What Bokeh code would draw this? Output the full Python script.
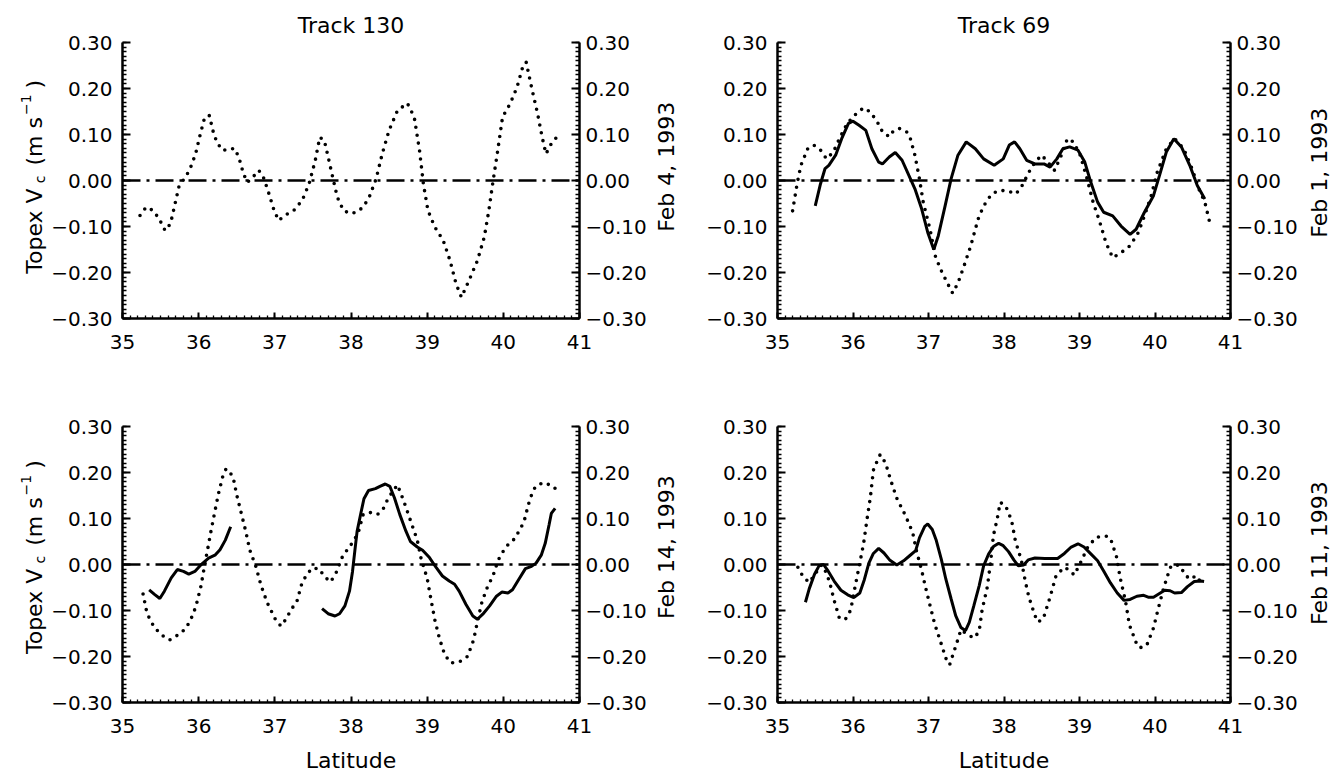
import math
from bokeh.plotting import figure
from bokeh.models import Range1d, LinearAxis, FixedTicker, CustomJSTickFormatter, Span
from bokeh.core.properties import value
from bokeh.layouts import column, row
from bokeh.embed import file_html
from bokeh.resources import INLINE

FONT = "DejaVu Sans"
TICK_SIZE = "20px"
LABEL_SIZE = "22px"

# ---------------- data ----------------
lat_ticks = [35, 36, 37, 38, 39, 40, 41]
v_ticks = [-0.30, -0.20, -0.10, 0.00, 0.10, 0.20, 0.30]

titles = ["Track 130", "Track 69", "", ""]
right_labels = ["Feb 4, 1993", "Feb 1, 1993", "Feb 14, 1993", "Feb 11, 1993"]
left_label_main = "Topex V"
left_label_sub = "c"
left_label_unit = "(m s"
left_label_sup = "\u22121"
left_label_close = ")"
x_label = "Latitude"

# Track 130, Feb 4 1993 (top left): dotted only
tl_dot_lat = [35.23, 35.31, 35.40, 35.48, 35.56, 35.63, 35.68, 35.74, 35.81, 35.88,
              35.96, 36.02, 36.08, 36.14, 36.20, 36.25, 36.32, 36.39, 36.48, 36.54,
              36.59, 36.64, 36.71, 36.79, 36.85, 36.91, 36.99, 37.05, 37.13, 37.25,
              37.36, 37.45, 37.53, 37.59, 37.65, 37.70, 37.76, 37.82, 37.90, 37.99,
              38.07, 38.16, 38.24, 38.33, 38.41, 38.50, 38.61, 38.74, 38.83, 38.90,
              38.95, 39.01, 39.10, 39.21, 39.30, 39.38, 39.45, 39.55, 39.66, 39.75,
              39.81, 39.86, 39.92, 39.99, 40.09, 40.18, 40.26, 40.30, 40.37, 40.45,
              40.51, 40.56, 40.63, 40.70]
tl_dot_v = [-0.076, -0.058, -0.065, -0.083, -0.109, -0.094, -0.058, -0.014, 0.004, 0.022,
            0.058, 0.100, 0.138, 0.141, 0.100, 0.080, 0.065, 0.069, 0.069, 0.043,
            0.014, -0.004, 0.007, 0.022, 0.007, -0.022, -0.065, -0.087, -0.076, -0.065,
            -0.043, -0.007, 0.043, 0.094, 0.087, 0.051, 0.007, -0.036, -0.065, -0.072,
            -0.069, -0.058, -0.036, 0.004, 0.058, 0.109, 0.152, 0.168, 0.138, 0.065,
            -0.007, -0.065, -0.101, -0.130, -0.174, -0.225, -0.254, -0.217, -0.174, -0.123,
            -0.065, -0.007, 0.058, 0.138, 0.167, 0.203, 0.250, 0.257, 0.203, 0.145,
            0.094, 0.058, 0.080, 0.094]

# Track 69, Feb 1 1993 (top right)
tr_sol_lat = [35.50, 35.57, 35.63, 35.68, 35.77, 35.85, 35.94, 36.00, 36.08, 36.17,
              36.25, 36.34, 36.39, 36.48, 36.56, 36.65, 36.74, 36.82, 36.91, 36.99,
              37.07, 37.13, 37.22, 37.30, 37.39, 37.50, 37.62, 37.73, 37.87, 37.99,
              38.07, 38.14, 38.21, 38.30, 38.41, 38.53, 38.61, 38.70, 38.78, 38.87,
              38.98, 39.07, 39.15, 39.24, 39.32, 39.44, 39.55, 39.67, 39.75, 39.86,
              39.98, 40.06, 40.15, 40.25, 40.35, 40.46, 40.56, 40.66]
tr_sol_v = [-0.055, -0.007, 0.026, 0.033, 0.055, 0.091, 0.124, 0.129, 0.120, 0.109,
            0.069, 0.040, 0.036, 0.051, 0.061, 0.044, 0.011, -0.018, -0.062, -0.113,
            -0.150, -0.120, -0.055, 0.004, 0.055, 0.084, 0.069, 0.047, 0.033, 0.047,
            0.077, 0.084, 0.069, 0.044, 0.036, 0.036, 0.029, 0.047, 0.069, 0.073,
            0.066, 0.040, -0.004, -0.047, -0.069, -0.077, -0.099, -0.117, -0.106, -0.069,
            -0.033, 0.011, 0.062, 0.091, 0.073, 0.033, -0.011, -0.040]
tr_dot_lat = [35.20, 35.26, 35.31, 35.40, 35.48, 35.57, 35.65, 35.74, 35.82, 35.91,
              36.00, 36.08, 36.14, 36.22, 36.31, 36.39, 36.48, 36.54, 36.62, 36.71,
              36.76, 36.82, 36.88, 36.93, 37.02, 37.09, 37.16, 37.25, 37.32, 37.39,
              37.47, 37.56, 37.62, 37.67, 37.76, 37.84, 37.93, 38.04, 38.16, 38.24,
              38.33, 38.41, 38.50, 38.58, 38.67, 38.76, 38.84, 38.92, 39.01, 39.10,
              39.18, 39.27, 39.35, 39.44, 39.55, 39.67, 39.78, 39.86, 39.95, 40.03,
              40.15, 40.26, 40.38, 40.49, 40.58, 40.66, 40.72]
tr_dot_v = [-0.066, -0.007, 0.033, 0.069, 0.077, 0.066, 0.047, 0.062, 0.091, 0.120,
            0.139, 0.150, 0.158, 0.150, 0.131, 0.106, 0.095, 0.109, 0.113, 0.106,
            0.091, 0.055, 0.004, -0.047, -0.106, -0.164, -0.193, -0.223, -0.245, -0.223,
            -0.186, -0.142, -0.106, -0.077, -0.047, -0.029, -0.022, -0.022, -0.029, -0.011,
            0.018, 0.040, 0.055, 0.040, 0.022, 0.055, 0.091, 0.084, 0.055, 0.004,
            -0.047, -0.091, -0.135, -0.168, -0.157, -0.142, -0.113, -0.077, -0.033, 0.018,
            0.069, 0.091, 0.069, 0.026, -0.018, -0.047, -0.088]

# Track 130, Feb 14 1993 (bottom left): two solid segments
bl_sol1_lat = [35.35, 35.42, 35.49, 35.55, 35.64, 35.72, 35.80, 35.87, 35.95, 36.04,
               36.13, 36.22, 36.28, 36.35, 36.42]
bl_sol1_v = [-0.055, -0.065, -0.074, -0.058, -0.029, -0.011, -0.015, -0.021, -0.015, 0.001,
             0.014, 0.021, 0.032, 0.053, 0.082]
bl_sol2_lat = [37.62, 37.70, 37.79, 37.85, 37.92, 37.98, 38.02, 38.05, 38.08, 38.13,
               38.17, 38.23, 38.32, 38.38, 38.45, 38.51, 38.57, 38.64, 38.72, 38.78,
               38.87, 38.94, 39.03, 39.12, 39.20, 39.29, 39.36, 39.42, 39.51, 39.60,
               39.66, 39.73, 39.82, 39.91, 39.98, 40.06, 40.12, 40.20, 40.29, 40.37,
               40.43, 40.50, 40.55, 40.60, 40.63, 40.68]
bl_sol2_v = [-0.096, -0.107, -0.112, -0.107, -0.090, -0.058, -0.015, 0.029, 0.072, 0.112,
             0.143, 0.161, 0.165, 0.170, 0.175, 0.170, 0.145, 0.109, 0.073, 0.050,
             0.038, 0.031, 0.015, -0.007, -0.025, -0.036, -0.043, -0.058, -0.087, -0.112,
             -0.119, -0.108, -0.090, -0.069, -0.060, -0.062, -0.055, -0.033, -0.009, -0.004,
             0.003, 0.021, 0.046, 0.086, 0.111, 0.122]
bl_dot_lat = [35.27, 35.32, 35.37, 35.43, 35.52, 35.62, 35.72, 35.82, 35.88, 35.93,
              35.97, 36.03, 36.08, 36.12, 36.16, 36.21, 36.26, 36.32, 36.36, 36.45,
              36.50, 36.56, 36.62, 36.67, 36.75, 36.82, 36.90, 37.01, 37.08, 37.15,
              37.21, 37.29, 37.35, 37.41, 37.49, 37.58, 37.65, 37.73, 37.80, 37.89,
              37.96, 38.04, 38.10, 38.16, 38.26, 38.35, 38.43, 38.49, 38.61, 38.69,
              38.78, 38.87, 38.92, 39.00, 39.05, 39.10, 39.16, 39.23, 39.31, 39.42,
              39.53, 39.61, 39.66, 39.72, 39.80, 39.86, 39.93, 40.00, 40.07, 40.15,
              40.21, 40.27, 40.33, 40.37, 40.42, 40.52, 40.65, 40.72]
bl_dot_v = [-0.064, -0.105, -0.123, -0.139, -0.154, -0.164, -0.154, -0.141, -0.125, -0.107,
            -0.087, -0.047, 0.000, 0.035, 0.071, 0.113, 0.154, 0.194, 0.208, 0.192,
            0.151, 0.111, 0.071, 0.032, -0.004, -0.046, -0.083, -0.120, -0.134, -0.118,
            -0.099, -0.080, -0.044, -0.024, -0.008, -0.009, -0.026, -0.038, -0.020, 0.018,
            0.034, 0.052, 0.072, 0.109, 0.113, 0.109, 0.123, 0.145, 0.173, 0.139,
            0.096, 0.053, 0.013, -0.030, -0.076, -0.120, -0.160, -0.196, -0.214, -0.212,
            -0.200, -0.164, -0.124, -0.081, -0.045, -0.027, 0.009, 0.029, 0.045, 0.056,
            0.074, 0.092, 0.131, 0.151, 0.169, 0.178, 0.171, 0.158]

# Track 69, Feb 11 1993 (bottom right)
br_sol_lat = [35.37, 35.42, 35.49, 35.55, 35.61, 35.67, 35.75, 35.84, 35.93, 36.01,
              36.09, 36.15, 36.21, 36.27, 36.34, 36.41, 36.49, 36.58, 36.67, 36.75,
              36.83, 36.88, 36.95, 36.99, 37.05, 37.10, 37.17, 37.23, 37.30, 37.36,
              37.43, 37.49, 37.54, 37.60, 37.67, 37.73, 37.80, 37.86, 37.93, 37.99,
              38.06, 38.13, 38.19, 38.26, 38.32, 38.41, 38.54, 38.71, 38.80, 38.89,
              38.98, 39.06, 39.15, 39.24, 39.32, 39.41, 39.50, 39.59, 39.67, 39.76,
              39.85, 39.91, 39.98, 40.07, 40.13, 40.20, 40.26, 40.35, 40.43, 40.52,
              40.61, 40.65]
br_sol_v = [-0.082, -0.053, -0.021, -0.003, 0.000, -0.014, -0.036, -0.056, -0.066, -0.072,
            -0.062, -0.033, 0.003, 0.024, 0.035, 0.025, 0.009, -0.001, 0.008, 0.019,
            0.030, 0.058, 0.083, 0.088, 0.076, 0.054, 0.011, -0.032, -0.075, -0.111,
            -0.137, -0.144, -0.126, -0.090, -0.047, -0.003, 0.024, 0.039, 0.046, 0.041,
            0.028, 0.010, -0.003, -0.001, 0.010, 0.014, 0.013, 0.013, 0.024, 0.038,
            0.045, 0.038, 0.023, 0.008, -0.014, -0.040, -0.062, -0.078, -0.076, -0.069,
            -0.067, -0.071, -0.071, -0.062, -0.056, -0.057, -0.062, -0.061, -0.048, -0.037,
            -0.036, -0.037]
br_dot_lat = [35.27, 35.34, 35.42, 35.51, 35.58, 35.64, 35.69, 35.75, 35.82, 35.90,
              35.97, 36.01, 36.08, 36.14, 36.19, 36.23, 36.27, 36.32, 36.36, 36.43,
              36.50, 36.58, 36.69, 36.79, 36.84, 36.91, 36.96, 37.02, 37.08, 37.16,
              37.23, 37.28, 37.36, 37.43, 37.49, 37.60, 37.67, 37.71, 37.78, 37.82,
              37.86, 37.91, 37.95, 38.02, 38.10, 38.15, 38.23, 38.28, 38.33, 38.41,
              38.45, 38.52, 38.61, 38.69, 38.80, 38.87, 38.93, 39.02, 39.11, 39.22,
              39.35, 39.41, 39.49, 39.54, 39.61, 39.66, 39.76, 39.80, 39.89, 39.98,
              40.04, 40.11, 40.20, 40.25, 40.33, 40.41, 40.48, 40.54, 40.61]
br_dot_v = [-0.006, -0.027, -0.039, -0.018, -0.001, -0.016, -0.038, -0.078, -0.117, -0.119,
            -0.099, -0.063, -0.005, 0.045, 0.103, 0.146, 0.205, 0.225, 0.239, 0.221,
            0.183, 0.144, 0.108, 0.070, 0.030, -0.013, -0.049, -0.089, -0.128, -0.168,
            -0.204, -0.218, -0.178, -0.142, -0.149, -0.160, -0.146, -0.099, -0.048, 0.002,
            0.063, 0.099, 0.135, 0.128, 0.096, 0.052, 0.009, -0.035, -0.071, -0.111,
            -0.125, -0.118, -0.071, -0.024, -0.006, -0.013, -0.023, 0.006, 0.038, 0.059,
            0.062, 0.057, 0.017, -0.030, -0.080, -0.131, -0.174, -0.181, -0.176, -0.138,
            -0.098, -0.054, -0.007, 0.000, -0.003, -0.025, -0.032, -0.024, -0.039]

solid_sets = [[], [(tr_sol_lat, tr_sol_v)],
              [(bl_sol1_lat, bl_sol1_v), (bl_sol2_lat, bl_sol2_v)],
              [(br_sol_lat, br_sol_v)]]
dotted_sets = [(tl_dot_lat, tl_dot_v), (tr_dot_lat, tr_dot_v),
               (bl_dot_lat, bl_dot_v), (br_dot_lat, br_dot_v)]

# ---------------- layout constants ----------------
FRAME_H = 276
LEFT_FRAME_W = 457
RIGHT_FRAME_W = 453
BORDER_L = 73
BORDER_R = 70
STRIP_W = [48, 54, 42]          # left strip, middle strip, right strip
ROW_TOP = [42, 56]
ROW_BOTTOM = [52, 78]

lat_minor = [35 + 0.1 * i for i in range(61)]
v_minor = [-0.30 + 0.01 * i for i in range(61)]
Y_FMT_CODE = "return (tick < -1e-9 ? '\u2212' : '') + Math.abs(tick).toFixed(2);"


def style_axis(ax, major_in, minor_in, standoff):
    ax.axis_line_color = "black"
    ax.axis_line_width = 2.5
    ax.major_tick_line_color = "black"
    ax.major_tick_line_width = 2
    ax.major_tick_in = major_in
    ax.major_tick_out = 0
    ax.minor_tick_line_color = "black"
    ax.minor_tick_line_width = 1.3
    ax.minor_tick_in = minor_in
    ax.minor_tick_out = 0
    ax.major_label_text_font = FONT
    ax.major_label_text_font_size = TICK_SIZE
    ax.major_label_text_color = "black"
    ax.major_label_standoff = standoff
    ax.axis_label_text_font = FONT
    ax.axis_label_text_font_size = LABEL_SIZE
    ax.axis_label_text_color = "black"
    ax.axis_label_text_font_style = "normal"


def make_panel(i, frame_w, r, show_xlabel):
    p = figure(frame_width=frame_w, frame_height=FRAME_H,
               x_range=Range1d(35, 41), y_range=Range1d(-0.30, 0.30),
               min_border_left=BORDER_L, min_border_right=BORDER_R,
               min_border_top=ROW_TOP[r], min_border_bottom=ROW_BOTTOM[r],
               output_backend="svg", toolbar_location=None,
               background_fill_color="white", border_fill_color="white")
    p.outline_line_color = None
    p.xgrid.visible = False
    p.ygrid.visible = False
    if titles[i]:
        p.title.text = titles[i]
        p.title.align = "center"
        p.title.text_font = FONT
        p.title.text_font_size = LABEL_SIZE
        p.title.text_font_style = "normal"
        p.title.text_color = "black"
        p.title.standoff = 10

    xa = p.xaxis[0]
    xa.ticker = FixedTicker(ticks=lat_ticks, minor_ticks=lat_minor)
    style_axis(xa, 6, 3, 16)
    if show_xlabel:
        xa.axis_label = x_label
        xa.axis_label_standoff = 12

    ya = p.yaxis[0]
    ya.ticker = FixedTicker(ticks=v_ticks, minor_ticks=v_minor)
    ya.formatter = CustomJSTickFormatter(code=Y_FMT_CODE)
    style_axis(ya, 8, 4, 10)

    ra = LinearAxis(ticker=FixedTicker(ticks=v_ticks, minor_ticks=v_minor),
                    formatter=CustomJSTickFormatter(code=Y_FMT_CODE))
    style_axis(ra, 8, 4, 6)
    p.add_layout(ra, "right")

    p.add_layout(Span(location=0, dimension="width", line_color="black",
                      line_width=2.5, line_dash="18 6 3 6"))

    for seg_lat, seg_v in solid_sets[i]:
        p.line(seg_lat, seg_v, line_color="black", line_width=3)
    dl, dv = dotted_sets[i]
    p.line(dl, dv, line_color="black", line_width=3.6, line_dash="0 8", line_cap="round")
    return p


def blank_strip(w, h):
    s = figure(width=w, height=h, x_range=Range1d(0, w), y_range=Range1d(0, h),
               min_border=0, min_border_left=0, min_border_right=0,
               min_border_top=0, min_border_bottom=0,
               x_axis_location=None, y_axis_location=None,
               output_backend="svg", toolbar_location=None,
               background_fill_color="white", border_fill_color="white")
    s.outline_line_color = None
    s.xgrid.visible = False
    s.ygrid.visible = False
    return s


def left_strip(r):
    h = ROW_TOP[r] + FRAME_H + ROW_BOTTOM[r]
    s = blank_strip(STRIP_W[0], h)
    center = ROW_BOTTOM[r] + FRAME_H / 2
    base_x = 34
    # (text, font px, baseline shift to the right in px, advance along the label in px)
    parts = [
        (left_label_main, 22, 0, 4.067 * 22 + 1),
        (left_label_sub, 14, 5, 0.55 * 14 + 10),
        (left_label_unit, 22, 0, 2.203 * 22 + 2),
        (left_label_sup, 14, -9, 1.474 * 14 + 6),
        (left_label_close, 22, 0, 0.39 * 22),
    ]
    total = sum(pt[3] for pt in parts)
    d = 0.0
    for text, size, shift, adv in parts:
        s.text(x=[base_x], y=[center], text=[text], angle=math.pi / 2,
               x_offset=shift, y_offset=-(d - total / 2),
               text_align="left", text_baseline="alphabetic",
               text_font=value(FONT), text_font_size=value(f"{size}px"),
               text_color="black")
        d += adv
    return s


def right_strip(w, r, i, cx, lift):
    h = ROW_TOP[r] + FRAME_H + ROW_BOTTOM[r]
    s = blank_strip(w, h)
    center = ROW_BOTTOM[r] + FRAME_H / 2
    s.text(x=[cx], y=[center], text=[right_labels[i]], angle=math.pi / 2,
           y_offset=-lift,
           text_align="center", text_baseline="middle",
           text_font=value(FONT), text_font_size=value(LABEL_SIZE),
           text_color="black")
    return s


rows = []
for r in range(2):
    pl = make_panel(2 * r, LEFT_FRAME_W, r, r == 1)
    pr = make_panel(2 * r + 1, RIGHT_FRAME_W, r, r == 1)
    rows.append(row(left_strip(r), pl, right_strip(STRIP_W[1], r, 2 * r, 17, 10),
                    pr, right_strip(STRIP_W[2], r, 2 * r + 1, 19, 4)))

layout = column(*rows)

open("out.html", "w").write(file_html(layout, INLINE))
